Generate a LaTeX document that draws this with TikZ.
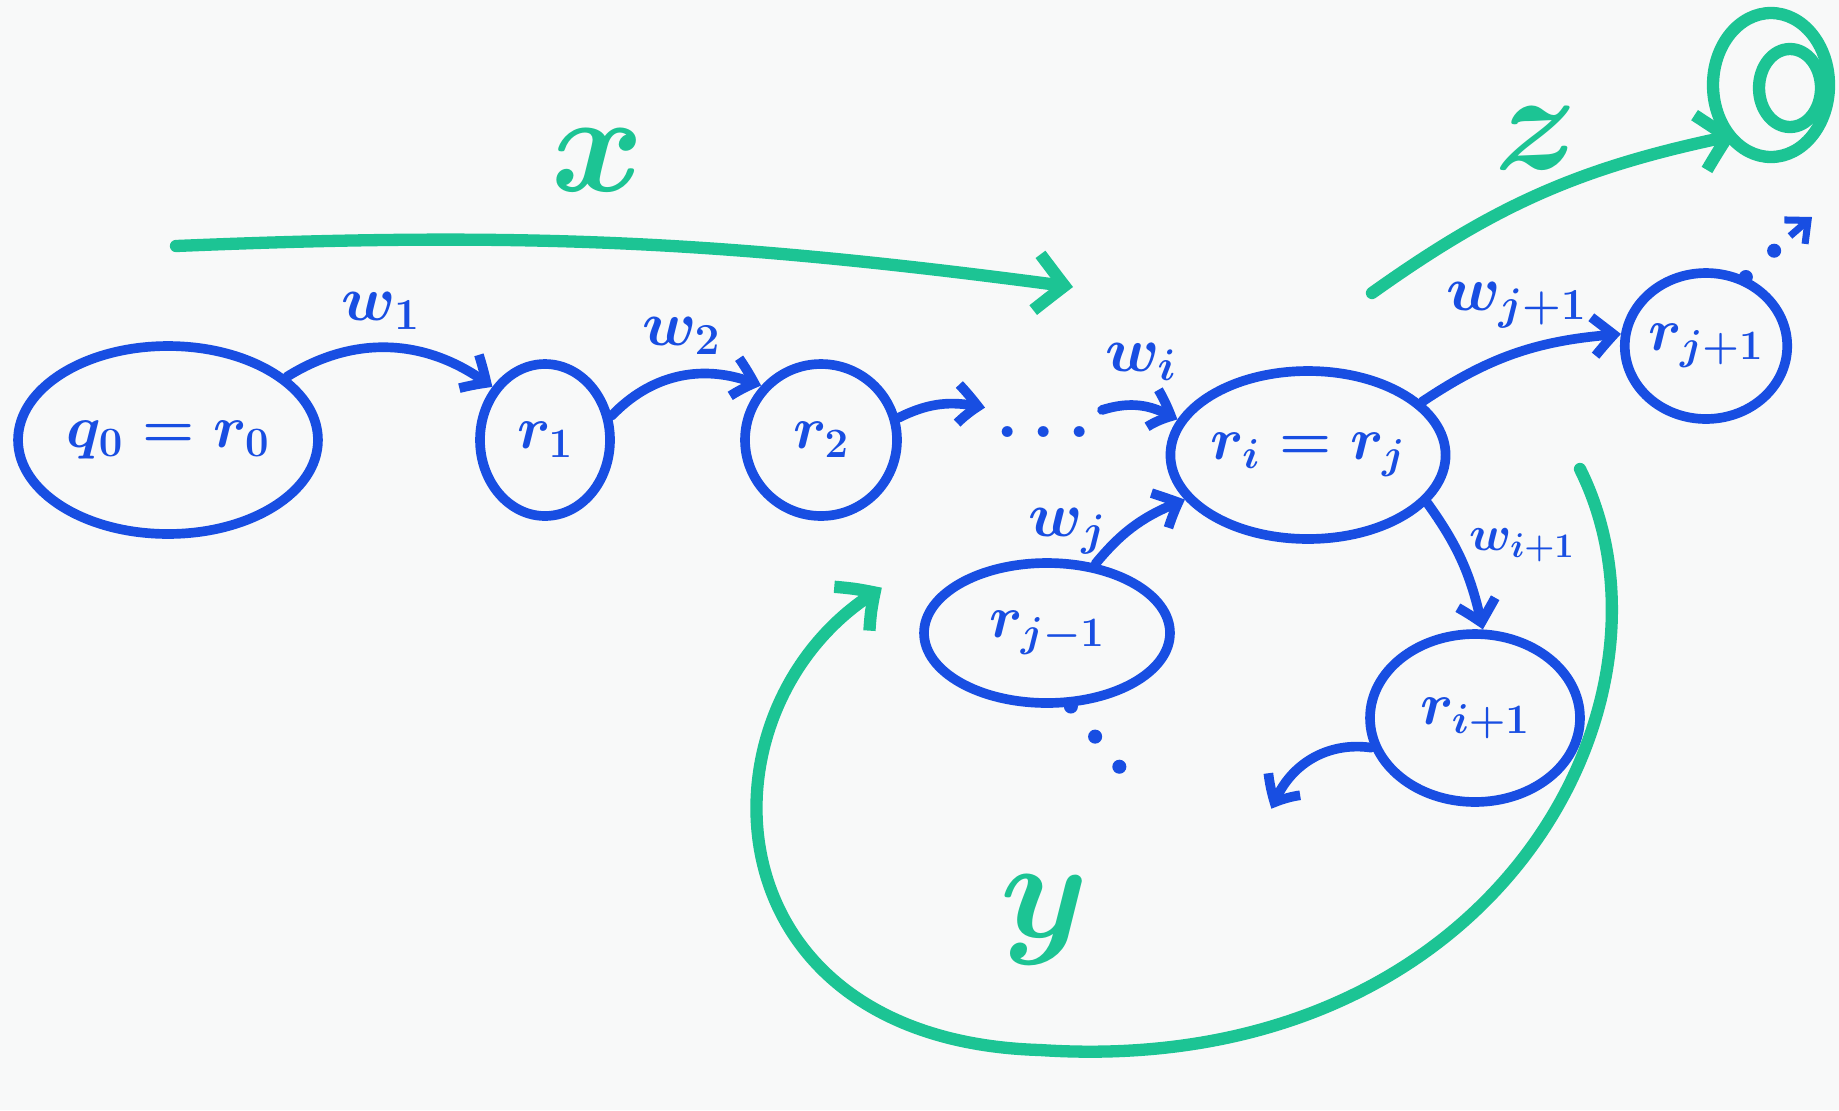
\RequirePackage{fix-cm}
\documentclass[tikz,border=0pt]{standalone}
\usetikzlibrary{arrows.meta,shapes.geometric,bending}
\definecolor{ink}{RGB}{24,78,226}
\definecolor{mgreen}{RGB}{28,196,148}
\definecolor{bg}{RGB}{248,249,249}
\begin{document}
\begin{tikzpicture}[x=0.02cm,y=0.02cm,
  state/.style={ellipse, draw=ink, line width=5.5pt, text=ink, font=\fontsize{34}{40}\selectfont\boldmath, inner sep=0pt},
  bl/.style={draw=ink, line width=5.5pt, line cap=round, -{Straight Barb[length=12pt,width=22pt,bend]}},
  gl/.style={draw=mgreen, line width=7pt, line cap=round, -{Straight Barb[length=16pt,width=32pt,bend]}},
  lab/.style={text=ink, font=\fontsize{36}{40}\selectfont\boldmath},
  glab/.style={text=mgreen, font=\fontsize{80}{84}\selectfont\boldmath},
  dotsl/.style={draw=ink, line width=8pt, line cap=round, dash pattern=on 0pt off 22pt}]
\fill[bg] (0,0) rectangle (1839,-1110);
\useasboundingbox (0,0) rectangle (1839,-1110);
% states
\node[state, minimum width=6cm, minimum height=3.76cm] (q0) at (168,-440) {$q_0=r_0$};
\node[state, minimum width=2.6cm, minimum height=3.04cm] (r1) at (545,-440) {$r_1$};
\node[state, minimum width=3.04cm, minimum height=3.04cm] (r2) at (821,-440) {$r_2$};
\node[text=ink, font=\fontsize{40}{44}\selectfont\boldmath] (dots) at (1044,-432) {$\dots$};
\node[state, minimum width=5.24cm, minimum height=3.36cm] (rirj) at (1308,-455) {$r_i=r_j$};
\node[state, minimum width=2.8cm, minimum height=2.92cm] (rjp) at (1706,-346) {$r_{j+1}$};
\node[state, minimum width=4.92cm, minimum height=2.8cm] (rjm) at (1047,-633) {$r_{j-1}$};
\node[state, minimum width=4.2cm, minimum height=3.36cm] (rip) at (1475,-718) {$r_{i+1}$};
% free ends
\coordinate (r2end) at (985,-408);
\coordinate (wistart) at (1102,-410);
\coordinate (ripend) at (1272,-809);
\coordinate (rjmend) at (1122,-770);
\coordinate (rjpmid) at (1790,-236);
\coordinate (rjpend) at (1812,-217);
\coordinate (xs) at (176,-246);
\coordinate (xe) at (1073,-287);
\coordinate (zs) at (1372,-293);
\coordinate (ze) at (1736,-135);
\coordinate (ya) at (1580,-469);
\coordinate (yb) at (882,-588);
% blue transitions
\draw[bl] (q0.28) to[bend left=35] node[lab, above=4pt, pos=0.45] (lw1) {$w_1$} (r1.135);
\draw[bl] (r1.20) to[bend left=35] node[lab, above=6pt, pos=0.5] (lw2) {$w_2$} (r2.138);
\draw[bl] (r2.16) to[bend left=20] (r2end);
\draw[bl] (wistart) to[bend left=25] node[lab, above=8pt, pos=0.5] (lwi) {$w_i$} (rirj.165);
\draw[bl] (rjm.55) to[bend left=15] node[lab, left=6pt, pos=0.4] (lwj) {$w_j$} (rirj.200);
\draw[bl] (rirj.25) to[bend left=15] node[lab, above=8pt, pos=0.5] (lwjp) {$w_{j+1}$} (rjp.172);
\draw[bl] (rirj.-22) to[bend left=12] (rip.85);
\draw[bl] (rip.196) to[bend right=40] (ripend);
\draw[dotsl] (rjm.-72) -- (rjmend);
\draw[dotsl] (rjp.60) -- (rjpmid);
\draw[draw=ink, line width=4pt, -{Straight Barb[length=10pt,width=18pt]}] (rjpmid) -- (rjpend);
% green x, y, z
\draw[gl] (xs) to[bend left=5] (xe);
\node[glab] (lx) at (598,-160) {$x$};
\draw[gl] (zs) to[bend left=12] (ze);
\node[glab] (lz) at (1536,-138) {$z$};
\draw[mgreen, line width=7pt] (1771,-85) ellipse [x radius=1.16cm, y radius=1.44cm];
\draw[mgreen, line width=7pt] (1790,-88) ellipse [x radius=0.62cm, y radius=0.78cm];
\draw[gl] (ya) .. controls (1695,-700) and (1495,-1080) .. (1040,-1050)
  .. controls (700,-1040) and (690,-700) .. (yb);
\node[glab] (ly) at (1045,-920) {$y$};
\node[lab, font=\fontsize{28}{32}\selectfont\boldmath] (lwip) at (1522,-545) {$w_{i+1}$};
\end{tikzpicture}
\end{document}
